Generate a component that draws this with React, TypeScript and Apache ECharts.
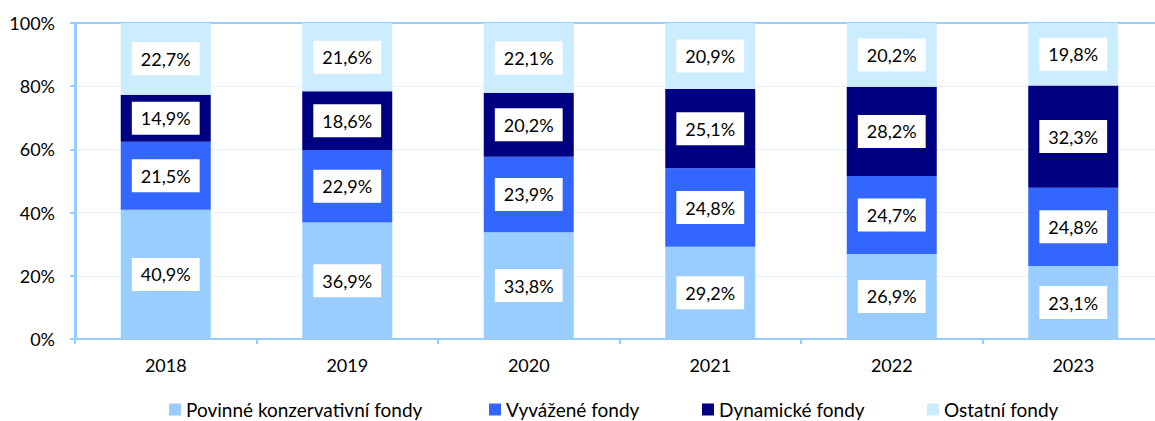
import React, { useEffect, useRef } from "react";
import * as echarts from "echarts";

const categories = ["2018", "2019", "2020", "2021", "2022", "2023"];
const seriesNames = ["Povinné konzervativní fondy", "Vyvážené fondy", "Dynamické fondy", "Ostatní fondy"];
const povinne = [40.9, 36.9, 33.8, 29.2, 26.9, 23.1];
const vyvazene = [21.5, 22.9, 23.9, 24.8, 24.7, 24.8];
const dynamicke = [14.9, 18.6, 20.2, 25.1, 28.2, 32.3];
const ostatni = [22.7, 21.6, 22.1, 20.9, 20.2, 19.8];
const colors = ["#99CCFF", "#3366FF", "#000080", "#CCECFF"];
const legendLeft = [169, 489, 702, 927];

const FONT = "Lato, 'Open Sans', sans-serif";

export default function App() {
  const ref = useRef<HTMLDivElement>(null);
  useEffect(() => {
    if (!ref.current) return;
    const chart = echarts.init(ref.current, undefined, { renderer: "svg" });
    const values = [povinne, vyvazene, dynamicke, ostatni];
    chart.setOption({
      animation: false,
      textStyle: { fontFamily: FONT },
      grid: { left: 75, top: 23, width: 1089, height: 316, containLabel: false },
      legend: seriesNames.map((n, i) => ({
        data: [n],
        left: legendLeft[i],
        top: 400,
        padding: 0,
        itemWidth: 12,
        itemHeight: 12,
        itemGap: 6,
        icon: "rect",
        textStyle: { fontFamily: FONT, fontSize: 19, color: "#000", padding: [0, 0, 0, 0] },
      })),
      xAxis: [
        {
          type: "category",
          data: categories,
          axisLine: { lineStyle: { color: "#99CCFF", width: 2 } },
          axisTick: { show: true, length: 5, lineStyle: { color: "#99CCFF", width: 2 } },
          axisLabel: { color: "#000", fontSize: 18, margin: 17, fontFamily: FONT },
        },
        {
          type: "category",
          data: categories,
          position: "top",
          axisLine: { show: true, lineStyle: { color: "#99CCFF", width: 2 } },
          axisTick: { show: false },
          axisLabel: { show: false },
        },
      ],
      yAxis: {
        type: "value",
        min: 0,
        max: 100,
        interval: 20,
        axisLine: { show: true, lineStyle: { color: "#99CCFF", width: 3 } },
        axisTick: { show: true, length: 5, lineStyle: { color: "#99CCFF", width: 2 } },
        axisLabel: { color: "#000", fontSize: 18, margin: 20, formatter: "{value}%", fontFamily: FONT },
        splitLine: { lineStyle: { color: "#E6F2FF", width: 1 } },
      },
      series: values.map((v, i) => ({
        name: seriesNames[i],
        type: "bar",
        stack: "total",
        barWidth: 90,
        data: v,
        itemStyle: { color: colors[i] },
        label: {
          show: true,
          position: "inside",
          color: "#000",
          fontSize: 18,
          fontFamily: FONT,
          backgroundColor: "#fff",
          padding: [8, 9, 7, 9],
          formatter: (p: any) => String(p.value).replace(".", ",") + "%",
        },
      })),
    });
    return () => chart.dispose();
  }, []);
  return (
    <div style={{ position: "fixed", left: 0, top: 0, width: 1155, height: 421, overflow: "hidden", background: "#fff" }}>
      <div ref={ref} style={{ width: 1175, height: 421 }} />
    </div>
  );
}
